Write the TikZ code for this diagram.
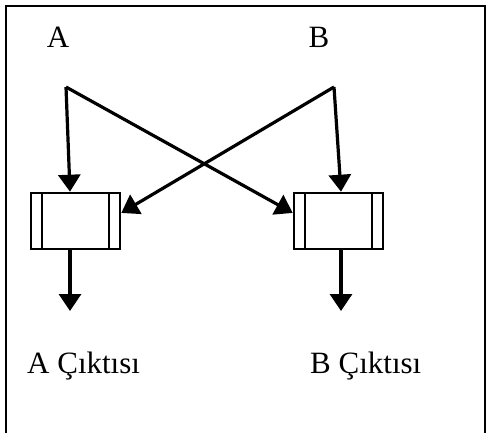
\documentclass[tikz,border=0pt]{standalone}
\usepackage{fontspec}
\setmainfont{Liberation Serif}
\usetikzlibrary{arrows.meta,positioning,calc}

\begin{document}
\begin{tikzpicture}[x=1pt,y=-1pt,
    font=\fontsize{31}{36}\selectfont,
    arr/.style={line width=3.2pt, -{Triangle[length=17pt,width=22pt]}},
    kuyruk/.style={draw, line width=2.6pt, inner sep=0pt,
      minimum width=89pt, minimum height=56pt,
      path picture={
        \draw[line width=2.6pt] ([xshift=11pt]path picture bounding box.north west)
          -- ([xshift=11pt]path picture bounding box.south west);
        \draw[line width=2.6pt] ([xshift=-11pt]path picture bounding box.north east)
          -- ([xshift=-11pt]path picture bounding box.south east);
      }},
    etiket/.style={inner sep=0pt}]
  \useasboundingbox (0,0) rectangle (486,432);
  \draw[line width=2.2pt] (6,6) rectangle (485,445);

  % inputs
  \node[etiket, anchor=base] (inA) at (58,47) {A};
  \node[etiket, anchor=base] (inB) at (319,47) {B};
  \coordinate (topA) at (66,87);
  \coordinate (topB) at (334,87);

  % the two boxes
  \node[kuyruk] (bufA) at (75.5,221) {};
  \node[kuyruk] (bufB) at (338.5,221) {};

  \coordinate (outA) at (70,311);
  \coordinate (outB) at (341,311);

  \draw[arr] (topA) -- (outA |- bufA.north);
  \draw[arr] (topB) -- (outB |- bufB.north);
  \draw[arr] (topA) -- (bufB.170);
  \draw[arr] (topB) -- (bufA.10);
  \draw[arr] (outA |- bufA.south) -- (outA);
  \draw[arr] (outB |- bufB.south) -- (outB);

  % outputs
  \node[etiket, anchor=base west] (resA) at (27,373) {A Çıktısı};
  \node[etiket, anchor=base west] (resB) at (310,373) {B Çıktısı};
\end{tikzpicture}
\end{document}
